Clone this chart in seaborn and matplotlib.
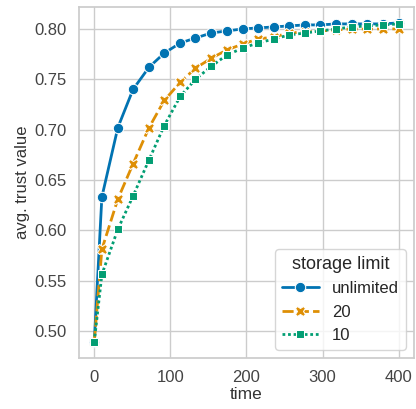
import pandas as pd
import numpy as np
import matplotlib
matplotlib.use("Agg")
import matplotlib.pyplot as plt
import seaborn as sns

# time steps
time = [0, 10, 31, 51, 72, 92, 113, 133, 154, 174, 195,
        215, 236, 256, 277, 297, 318, 338, 359, 379, 400]

trust_unlimited = [0.489, 0.633, 0.702, 0.740, 0.762, 0.776, 0.786, 0.791, 0.796, 0.798, 0.800,
                   0.801, 0.802, 0.803, 0.804, 0.804, 0.805, 0.805, 0.805, 0.805, 0.806]
trust_20 = [0.489, 0.581, 0.631, 0.666, 0.702, 0.729, 0.747, 0.761, 0.771, 0.779, 0.785,
            0.790, 0.792, 0.796, 0.797, 0.798, 0.799, 0.800, 0.800, 0.800, 0.800]
trust_10 = [0.489, 0.556, 0.601, 0.634, 0.670, 0.704, 0.733, 0.750, 0.763, 0.774, 0.781,
            0.786, 0.790, 0.794, 0.796, 0.798, 0.800, 0.802, 0.803, 0.804, 0.805]

limits = ['unlimited', '20', '10']

df = pd.DataFrame({
    'time': time * 3,
    'avg. trust value': trust_unlimited + trust_20 + trust_10,
    'storage limit': [l for l in limits for _ in time],
})

sns.set_theme(style='whitegrid')
plt.rcParams['font.family'] = ['Liberation Sans', 'DejaVu Sans']

fig, ax = plt.subplots(figsize=(4.16, 4.09), dpi=100)
# default seaborn markers/dashes: o, X, square; solid, dashed, dotted
sns.lineplot(data=df, x='time', y='avg. trust value',
             hue='storage limit', style='storage limit',
             hue_order=limits, style_order=limits,
             palette='colorblind', markers=True, dashes=True,
             linewidth=2, markersize=7.5, ax=ax)

ax.set_yticks([0.50, 0.55, 0.60, 0.65, 0.70, 0.75, 0.80])
ax.set_xticks([0, 100, 200, 300, 400])
ax.tick_params(labelsize=12, colors='#444444', pad=3)
ax.set_xlabel('time', fontsize=12.5, color='#333333', labelpad=1)
ax.set_ylabel('avg. trust value', fontsize=12, color='#333333', labelpad=3)

leg = ax.legend(title='storage limit', loc='lower right', fontsize=12,
                title_fontsize=13, handlelength=2.2, borderaxespad=0.5)

fig.subplots_adjust(left=0.19, right=0.995, top=0.983, bottom=0.125)
fig.savefig('out.png', dpi=100)
